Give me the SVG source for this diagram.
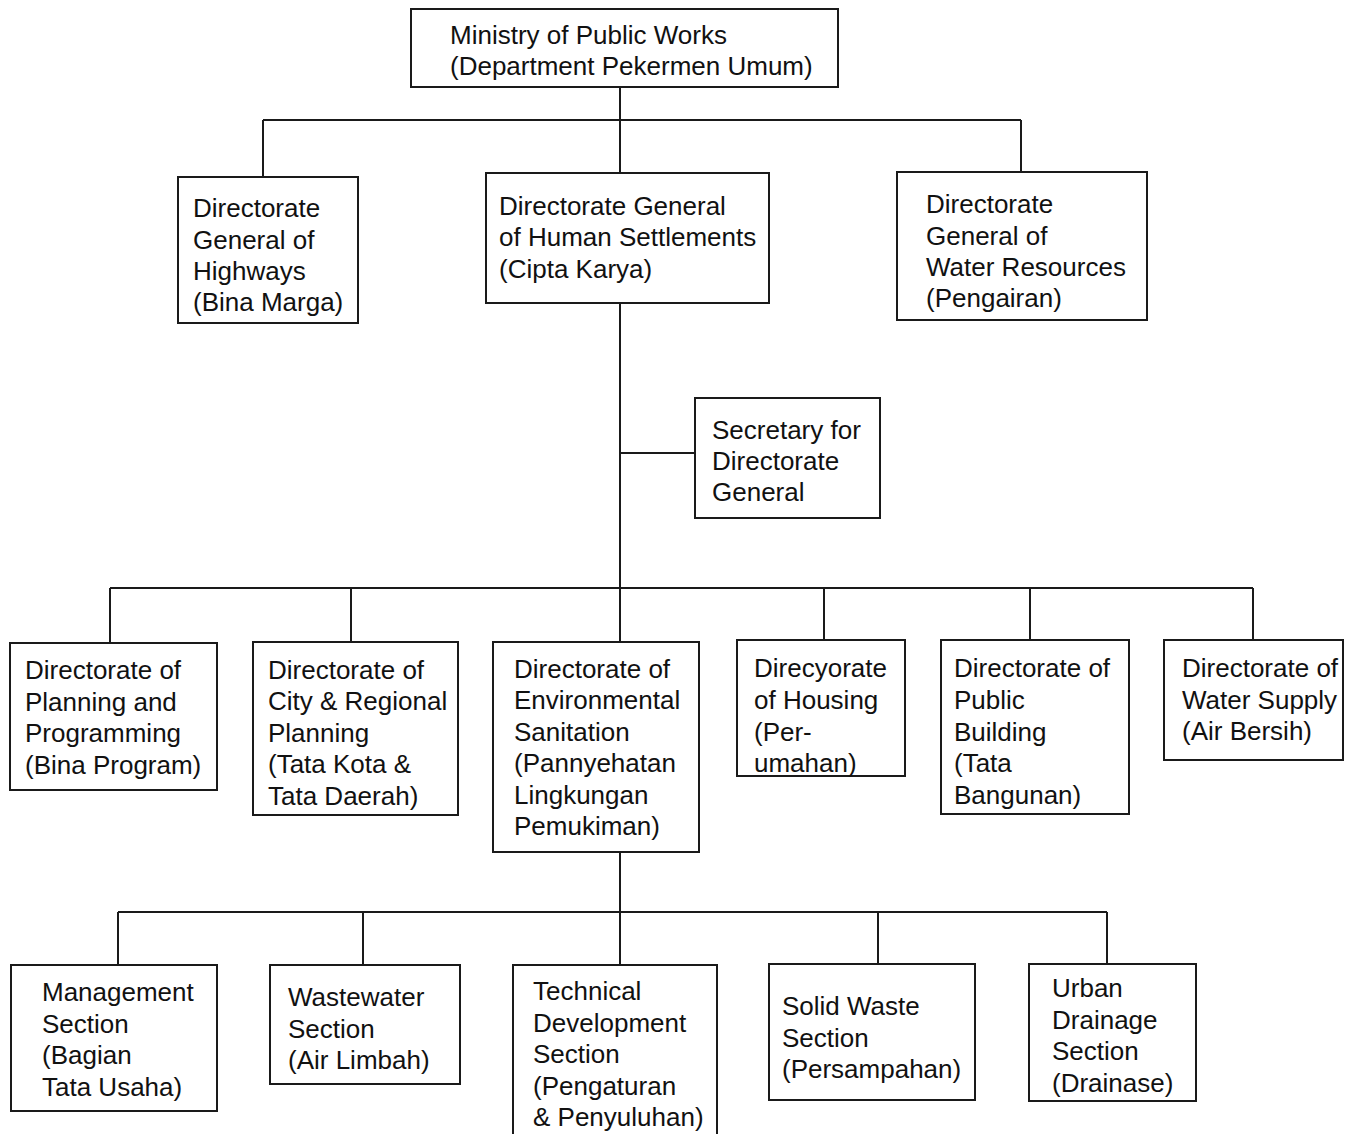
<svg xmlns="http://www.w3.org/2000/svg" width="1355" height="1134" viewBox="0 0 1355 1134">
<style>
rect{fill:#fff;stroke:#1a1a1a;stroke-width:2}
line{stroke:#1a1a1a;stroke-width:2}
text{font-family:"Liberation Sans",Arial,sans-serif;font-size:26px;fill:#111}
</style>
<rect x="0" y="0" width="1355" height="1134" style="stroke:none"/>
<g id="connectors">
<line x1="620" y1="87" x2="620" y2="120"/>
<line x1="263" y1="120" x2="1021" y2="120"/>
<line x1="263" y1="120" x2="263" y2="177"/>
<line x1="620" y1="120" x2="620" y2="173"/>
<line x1="1021" y1="120" x2="1021" y2="172"/>
<line x1="620" y1="303" x2="620" y2="642"/>
<line x1="620" y1="453" x2="695" y2="453"/>
<line x1="110" y1="588" x2="1253" y2="588"/>
<line x1="110" y1="588" x2="110" y2="643"/>
<line x1="351" y1="588" x2="351" y2="642"/>
<line x1="824" y1="588" x2="824" y2="640"/>
<line x1="1030" y1="588" x2="1030" y2="640"/>
<line x1="1253" y1="588" x2="1253" y2="640"/>
<line x1="620" y1="852" x2="620" y2="965"/>
<line x1="118" y1="912" x2="1107" y2="912"/>
<line x1="118" y1="912" x2="118" y2="965"/>
<line x1="363" y1="912" x2="363" y2="965"/>
<line x1="878" y1="912" x2="878" y2="964"/>
<line x1="1107" y1="912" x2="1107" y2="964"/>
</g>
<g id="ministry"><rect x="411" y="9" width="427" height="78"/>
<text x="450" y="44">Ministry of Public Works</text><text x="450" y="75">(Department Pekermen Umum)</text></g>
<g id="highways"><rect x="178" y="177" width="180" height="146"/>
<text x="193" y="217">Directorate</text><text x="193" y="249">General of</text><text x="193" y="280">Highways</text><text x="193" y="311">(Bina Marga)</text></g>
<g id="human-settlements"><rect x="486" y="173" width="283" height="130"/>
<text x="499" y="215">Directorate General</text><text x="499" y="246">of Human Settlements</text><text x="499" y="278">(Cipta Karya)</text></g>
<g id="water-resources"><rect x="897" y="172" width="250" height="148"/>
<text x="926" y="213">Directorate</text><text x="926" y="245">General of</text><text x="926" y="276">Water Resources</text><text x="926" y="307">(Pengairan)</text></g>
<g id="secretary"><rect x="695" y="398" width="185" height="120"/>
<text x="712" y="439">Secretary for</text><text x="712" y="470">Directorate</text><text x="712" y="501">General</text></g>
<g id="planning"><rect x="10" y="643" width="207" height="147"/>
<text x="25" y="679">Directorate of</text><text x="25" y="711">Planning and</text><text x="25" y="742">Programming</text><text x="25" y="774">(Bina Program)</text></g>
<g id="city"><rect x="253" y="642" width="205" height="173"/>
<text x="268" y="679">Directorate of</text><text x="268" y="710">City &amp; Regional</text><text x="268" y="742">Planning</text><text x="268" y="773">(Tata Kota &amp;</text><text x="268" y="805">Tata Daerah)</text></g>
<g id="env-sanitation"><rect x="493" y="642" width="206" height="210"/>
<text x="514" y="678">Directorate of</text><text x="514" y="709">Environmental</text><text x="514" y="741">Sanitation</text><text x="514" y="772">(Pannyehatan</text><text x="514" y="804">Lingkungan</text><text x="514" y="835">Pemukiman)</text></g>
<g id="housing"><rect x="737" y="640" width="168" height="136"/>
<text x="754" y="677">Direcyorate</text><text x="754" y="709">of Housing</text><text x="754" y="741">(Per-</text><text x="754" y="772">umahan)</text></g>
<g id="public-building"><rect x="941" y="640" width="188" height="174"/>
<text x="954" y="677">Directorate of</text><text x="954" y="709">Public</text><text x="954" y="741">Building</text><text x="954" y="772">(Tata</text><text x="954" y="804">Bangunan)</text></g>
<g id="water-supply"><rect x="1164" y="640" width="179" height="120"/>
<text x="1182" y="677">Directorate of</text><text x="1182" y="709">Water Supply</text><text x="1182" y="740">(Air Bersih)</text></g>
<g id="management"><rect x="11" y="965" width="206" height="146"/>
<text x="42" y="1001">Management</text><text x="42" y="1033">Section</text><text x="42" y="1064">(Bagian</text><text x="42" y="1096">Tata Usaha)</text></g>
<g id="wastewater"><rect x="270" y="965" width="190" height="119"/>
<text x="288" y="1006">Wastewater</text><text x="288" y="1038">Section</text><text x="288" y="1069">(Air Limbah)</text></g>
<g id="technical"><rect x="513" y="965" width="204" height="175"/>
<text x="533" y="1000">Technical</text><text x="533" y="1032">Development</text><text x="533" y="1063">Section</text><text x="533" y="1095">(Pengaturan</text><text x="533" y="1126">&amp; Penyuluhan)</text></g>
<g id="solid-waste"><rect x="769" y="964" width="206" height="136"/>
<text x="782" y="1015">Solid Waste</text><text x="782" y="1047">Section</text><text x="782" y="1078">(Persampahan)</text></g>
<g id="urban-drainage"><rect x="1029" y="964" width="167" height="137"/>
<text x="1052" y="997">Urban</text><text x="1052" y="1029">Drainage</text><text x="1052" y="1060">Section</text><text x="1052" y="1092">(Drainase)</text></g>
</svg>
